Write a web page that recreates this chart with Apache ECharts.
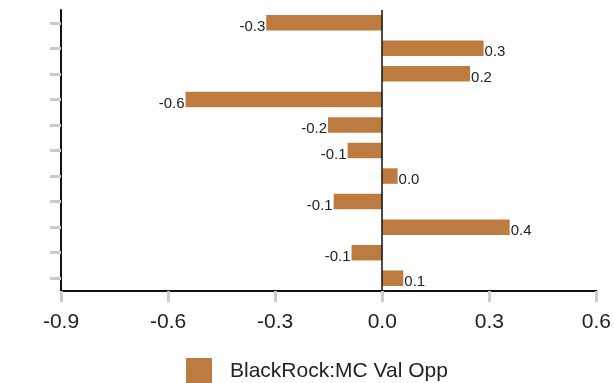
<!DOCTYPE html>
<html>
<head>
<meta charset="utf-8">
<script src="https://cdn.jsdelivr.net/npm/echarts@6/dist/echarts.min.js"></script>
<style>
  html, body { margin: 0; padding: 0; background: #fff; }
  #chart { width: 614px; height: 383px; }
</style>
</head>
<body>
<div id="chart"></div>
<script>
// Rows, top to bottom
const categories = ['r1', 'r2', 'r3', 'r4', 'r5', 'r6', 'r7', 'r8', 'r9', 'r10', 'r11'];
const seriesName = 'BlackRock:MC Val Opp';
const values = [-0.325, 0.284, 0.246, -0.551, -0.152, -0.097, 0.043, -0.136, 0.357, -0.086, 0.059];
const xTicks = [-0.9, -0.6, -0.3, 0.0, 0.3, 0.6];

const barColor = '#be7b3f';
const font = '"Liberation Sans", Arial, sans-serif';

const chart = echarts.init(document.getElementById('chart'));
chart.setOption({
  animation: false,
  grid: { left: 61, right: 15, top: 10, bottom: 92, containLabel: false },
  xAxis: {
    type: 'value',
    min: xTicks[0],
    max: xTicks[xTicks.length - 1],
    interval: 0.3,
    axisLine: { show: true, onZero: false, lineStyle: { color: '#111', width: 2 } },
    axisTick: { show: true, length: 11, lineStyle: { color: '#c8ccd0', width: 3 } },
    splitLine: { show: false },
    axisLabel: {
      margin: 21,
      fontSize: 21,
      color: '#222',
      fontFamily: font,
      formatter: v => v.toFixed(1)
    }
  },
  yAxis: {
    type: 'category',
    data: categories,
    inverse: true,
    axisLine: { show: true, onZero: false, lineStyle: { color: '#111', width: 2 } },
    axisTick: { show: true, alignWithLabel: true, length: 11, lineStyle: { color: '#c8ccd0', width: 3 } },
    axisLabel: { show: false },
    splitLine: { show: false }
  },
  legend: {
    data: [seriesName],
    top: 353,
    left: 181,
    itemWidth: 26,
    itemHeight: 26,
    icon: 'rect',
    textStyle: { fontSize: 21, color: '#222', fontFamily: font, padding: [4, 0, 0, 13] }
  },
  series: [{
    name: seriesName,
    type: 'bar',
    data: values.map(v => ({
      value: v,
      // negative bars carry their label on the left end
      label: { position: v < 0 ? 'left' : 'right' }
    })),
    barWidth: 15.5,
    itemStyle: { color: barColor },
    label: {
      show: true,
      distance: 1,
      offset: [0, 4],
      fontSize: 15,
      color: '#222',
      fontFamily: font,
      formatter: p => p.value.toFixed(1)
    },
    markLine: {
      silent: true,
      symbol: 'none',
      label: { show: false },
      lineStyle: { color: '#111', width: 1.5, type: 'solid' },
      data: [{ xAxis: 0 }]
    }
  }]
});
</script>
</body>
</html>
